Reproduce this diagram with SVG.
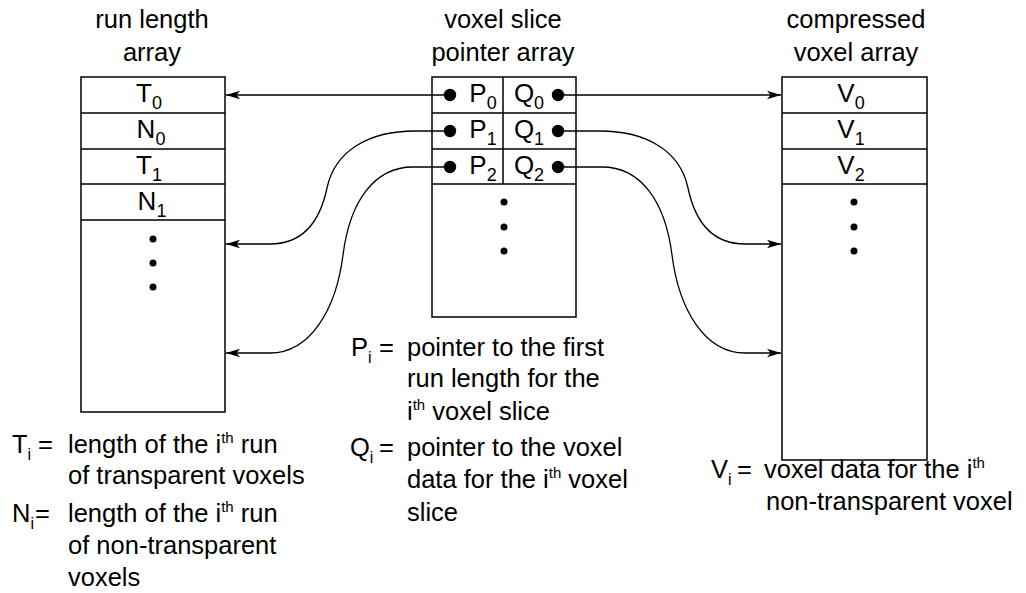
<svg xmlns="http://www.w3.org/2000/svg" width="1026" height="593" viewBox="0 0 1026 593">
<style>
text{font-family:"Liberation Sans",Arial,sans-serif;fill:#000}
.t{font-size:25.5px}
.c{font-size:26px;text-anchor:middle}
.sub{font-size:18px}
.ls{font-size:16px}
.sup{font-size:15px}
.box{fill:#fff;stroke:#000;stroke-width:1.5}
.ln{stroke:#000;stroke-width:1.5;fill:none}
.con{stroke:#000;stroke-width:1.3;fill:none;marker-end:url(#ah)}
</style>
<defs>
<marker id="ah" markerUnits="userSpaceOnUse" viewBox="0 0 14 10" refX="14" refY="5" markerWidth="14" markerHeight="10" orient="auto">
<path d="M0,0.8 L14,5 L0,9.2 L3.5,5 Z" fill="#000"/>
</marker>
</defs>
<rect width="1026" height="593" fill="#fff"/>

<g id="run-length-array">
<text class="t" x="152" y="28" text-anchor="middle">run length</text>
<text class="t" x="152" y="61" text-anchor="middle">array</text>
<rect class="box" x="81" y="77" width="144" height="335"/>
<path class="ln" d="M81,113H225M81,149H225M81,184H225M81,220H225"/>
<text class="c" x="149" y="102">T<tspan class="sub" dy="7">0</tspan></text>
<text class="c" x="151" y="138">N<tspan class="sub" dy="7">0</tspan></text>
<text class="c" x="149" y="174">T<tspan class="sub" dy="7">1</tspan></text>
<text class="c" x="152" y="210">N<tspan class="sub" dy="7">1</tspan></text>
<circle cx="153" cy="239" r="3.5"/>
<circle cx="153" cy="263" r="3.5"/>
<circle cx="153" cy="287" r="3.5"/>
</g>

<g id="pointer-array">
<text class="t" x="503" y="28" text-anchor="middle">voxel slice</text>
<text class="t" x="503" y="61" text-anchor="middle">pointer array</text>
<rect class="box" x="432" y="77" width="144" height="240"/>
<path class="ln" d="M432,113H576M432,149H576M432,184H576M503,77V184"/>
<text class="c" x="483" y="102">P<tspan class="sub" dy="7">0</tspan></text>
<text class="c" x="529" y="102">Q<tspan class="sub" dy="7">0</tspan></text>
<text class="c" x="483" y="138">P<tspan class="sub" dy="7">1</tspan></text>
<text class="c" x="529" y="138">Q<tspan class="sub" dy="7">1</tspan></text>
<text class="c" x="483" y="174">P<tspan class="sub" dy="7">2</tspan></text>
<text class="c" x="529" y="174">Q<tspan class="sub" dy="7">2</tspan></text>
<circle cx="450" cy="95" r="6.2"/>
<circle cx="450" cy="131" r="6.2"/>
<circle cx="450" cy="167" r="6.2"/>
<circle cx="558" cy="95" r="6.2"/>
<circle cx="558" cy="131" r="6.2"/>
<circle cx="558" cy="167" r="6.2"/>
<circle cx="504" cy="202" r="3.5"/>
<circle cx="504" cy="227" r="3.5"/>
<circle cx="504" cy="251" r="3.5"/>
</g>

<g id="compressed-voxel-array">
<text class="t" x="856" y="28" text-anchor="middle">compressed</text>
<text class="t" x="856" y="61" text-anchor="middle">voxel array</text>
<rect class="box" x="782" y="77" width="145" height="383"/>
<path class="ln" d="M782,113H927M782,149H927M782,184H927"/>
<text class="c" x="851" y="102">V<tspan class="sub" dy="7">0</tspan></text>
<text class="c" x="851" y="138">V<tspan class="sub" dy="7">1</tspan></text>
<text class="c" x="851" y="174">V<tspan class="sub" dy="7">2</tspan></text>
<circle cx="854" cy="202" r="3.5"/>
<circle cx="854" cy="227" r="3.5"/>
<circle cx="854" cy="251" r="3.5"/>
</g>

<g id="connectors">
<path class="con" d="M450,95H226"/>
<path class="con" d="M450,131H415C370,131 335,150 327,188C319,226 300,244 270,244H226"/>
<path class="con" d="M450,167H413C375,167 350,200 343,255C336,310 310,353 270,353H226"/>
<path class="con" d="M558,95H781"/>
<path class="con" d="M558,131H600C645,131 680,150 688,188C696,226 715,244 745,244H781"/>
<path class="con" d="M558,167H602C640,167 665,200 672,255C679,310 705,353 745,353H781"/>
</g>

<g id="legend-run-length">
<text class="t" x="12" y="453">T<tspan class="ls" dy="7">i</tspan></text>
<text class="t" x="38" y="453">=</text>
<text class="t" x="68" y="453">length of the i<tspan class="sup" dy="-10">th</tspan><tspan dy="10"> run</tspan></text>
<text class="t" x="68" y="484">of transparent voxels</text>
<text class="t" x="12" y="522">N<tspan class="ls" dy="7">i</tspan></text>
<text class="t" x="35" y="522">=</text>
<text class="t" x="68" y="522">length of the i<tspan class="sup" dy="-10">th</tspan><tspan dy="10"> run</tspan></text>
<text class="t" x="68" y="554">of non-transparent</text>
<text class="t" x="68" y="586">voxels</text>
</g>

<g id="legend-pointer">
<text class="t" x="351" y="356">P<tspan class="ls" dy="7">i</tspan></text>
<text class="t" x="379" y="356">=</text>
<text class="t" x="407" y="356">pointer to the first</text>
<text class="t" x="407" y="387">run length for the</text>
<text class="t" x="407" y="420">i<tspan class="sup" dy="-10">th</tspan><tspan dy="10"> voxel slice</tspan></text>
<text class="t" x="350" y="456">Q<tspan class="ls" dy="7">i</tspan></text>
<text class="t" x="379" y="456">=</text>
<text class="t" x="407" y="456">pointer to the voxel</text>
<text class="t" x="407" y="488">data for the i<tspan class="sup" dy="-10">th</tspan><tspan dy="10"> voxel</tspan></text>
<text class="t" x="407" y="521">slice</text>
</g>

<g id="legend-voxel">
<text class="t" x="711" y="478">V<tspan class="ls" dy="7">i</tspan></text>
<text class="t" x="737" y="478">=</text>
<text class="t" x="764" y="478">voxel data for the i<tspan class="sup" dy="-10">th</tspan></text>
<text class="t" x="766" y="510">non-transparent voxel</text>
</g>
</svg>
